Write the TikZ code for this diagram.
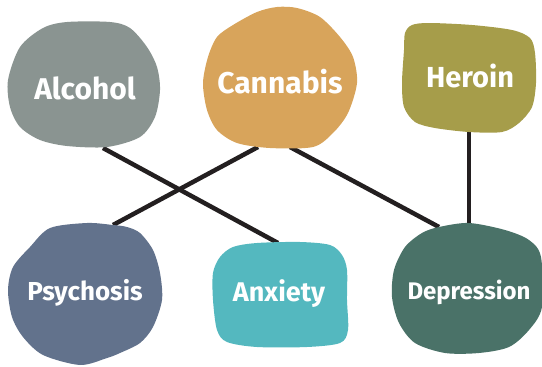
\documentclass[tikz,border=0pt]{standalone}
\usepackage{fontspec}
\setmainfont{Fira Sans}
\usetikzlibrary{backgrounds}
\definecolor{alccol}{HTML}{8A9491}
\definecolor{cancol}{HTML}{D8A45B}
\definecolor{hercol}{HTML}{A69D4A}
\definecolor{psycol}{HTML}{62728C}
\definecolor{anxcol}{HTML}{54B8BF}
\definecolor{depcol}{HTML}{4A7268}
\definecolor{linkcol}{HTML}{231F20}
\tikzset{
	label/.style={text=white, font=\bfseries\fontsize{#1}{#1}\selectfont, inner sep=0pt},
	link/.style={draw=linkcol, line width=4.5pt},
	blob/.style={fill=#1, draw=none},
}

\begin{document}
\begin{tikzpicture}[x=1pt, y=-1pt]
	\useasboundingbox (0,0) rectangle (542,367);
	\node [label=30] (alc) at (85,88) {Alcohol};
	\node [label=30] (can) at (280,82) {Cannabis};
	\node [label=29] (her) at (470,76) {Heroin};
	\node [label=26] (psy) at (85,293) {Psychosis};
	\node [label=27] (anx) at (279,294) {Anxiety};
	\node [label=24] (dep) at (469,292) {Depression};

    \begin{scope}[on background layer]
    \draw [link] ([shift={(18,60)}]alc.center) -- ([shift={(-1,-51)}]anx.center);
    \draw [link] ([shift={(-22,65)}]can.center) -- ([shift={(28,-68)}]psy.center);
    \draw [link] ([shift={(10,65)}]can.center) -- ([shift={(-30,-65)}]dep.center);
    \draw [link] ([shift={(-1,56)}]her.center) -- ([shift={(0,-69)}]dep.center);

    % blobs
    \path [blob=alccol] plot [smooth cycle] coordinates {
    	(20,47) (43,28) (67,22) (110,22) (130,28) (147,47) (157,67) (160,90)
    	(155,117) (140,137) (107,147) (67,146) (40,140) (20,127) (10,107) (8,80)};
    \path [blob=cancol] plot [smooth cycle] coordinates {
    	(277,7) (257,12) (233,25) (217,37) (208,57) (203,83) (207,110) (217,130)
    	(237,143) (270,148) (313,147) (333,133) (348,113) (357,83) (353,57)
    	(340,37) (320,17) (297,8)};
    \path [blob=hercol] plot [smooth cycle] coordinates {
    	(412,25) (429,23) (472,25) (512,30) (530,38) (535,53) (536,83) (532,107)
    	(519,123) (502,132) (469,132) (435,128) (415,122) (404,107) (402,83)
    	(404,50) (405,33)};
    \path [blob=psycol] plot [smooth cycle] coordinates {
    	(113,225) (87,223) (50,228) (30,247) (13,267) (8,290) (12,317) (23,337)
    	(43,355) (80,365) (107,358) (120,353) (140,343) (153,327) (162,300)
    	(160,273) (153,250) (140,233) (127,227)};
    \path [blob=anxcol] plot [smooth cycle] coordinates {
    	(233,247) (257,243) (300,242) (330,245) (342,255) (347,270) (347,300)
    	(348,330) (340,343) (307,347) (257,347) (227,342) (217,330) (213,300)
    	(213,273) (220,257)};
    \path [blob=depcol] plot [smooth cycle] coordinates {
    	(439,227) (469,223) (505,230) (529,240) (541,257) (542,307) (529,330)
    	(509,347) (479,353) (445,353) (415,343) (399,323) (392,297) (394,270)
    	(405,247) (422,233)};
    \end{scope}
\end{tikzpicture}
\end{document}
